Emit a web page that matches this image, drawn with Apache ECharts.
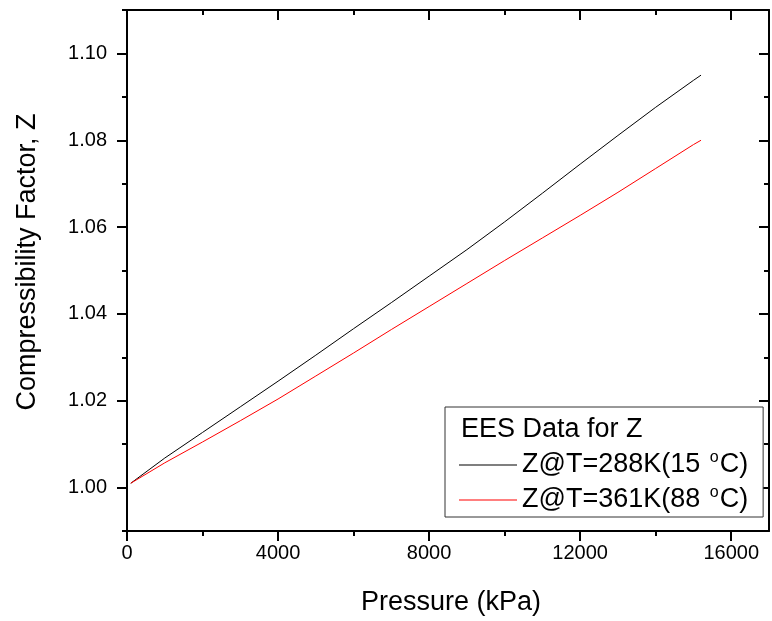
<!DOCTYPE html>
<html>
<head>
<meta charset="utf-8">
<script src="https://cdn.jsdelivr.net/npm/echarts@6/dist/echarts.min.js"></script>
<style>html,body{margin:0;padding:0;background:#fff}#c{width:772px;height:621px}</style>
</head>
<body>
<div id="c"></div>
<script>
// ---- data ----
const pressure = [100, 1000, 2000, 3000, 4000, 5000, 6000, 7000, 8000, 9000, 10000, 11000, 12000, 13000, 14000, 15000, 15200];
const z288 = [1.0010, 1.0068, 1.0127, 1.0186, 1.0245, 1.0305, 1.0366, 1.0426, 1.0487, 1.0548, 1.0612, 1.0678, 1.0745, 1.0811, 1.0876, 1.0938, 1.0950];
const z361 = [1.0010, 1.0057, 1.0105, 1.0154, 1.0204, 1.0257, 1.0310, 1.0364, 1.0417, 1.0470, 1.0523, 1.0575, 1.0627, 1.0680, 1.0735, 1.0790, 1.0800];
const xMajorTicks = [0, 4000, 8000, 12000, 16000];
const xMinorTicks = [2000, 6000, 10000, 14000];
const yMajorTicks = [1.00, 1.02, 1.04, 1.06, 1.08, 1.10];
const yMinorTicks = [0.99, 1.01, 1.03, 1.05, 1.07, 1.09, 1.11];
const seriesNames = ['Z@T=288K(15 oC)', 'Z@T=361K(88 oC)'];
const legendLabels = ['Z@T=288K(15 {s|o}C)', 'Z@T=361K(88 {s|o}C)'];
const legendTitle = 'EES Data for Z';
const xName = 'Pressure (kPa)';
const yName = 'Compressibility Factor, Z';

const FONT = 'Liberation Sans, Arial, sans-serif';
const X0 = 0, X1 = 17000, Y0 = 0.99, Y1 = 1.11;
const lineColors = ['#000000', '#ff0000'];

function xAxisDef(pos, ticks, len, inside, labels, withLine) {
  return {
    type: 'value', position: pos, min: X0, max: X1,
    axisLine: {show: withLine, onZero: false, lineStyle: {color: '#000', width: 2}},
    axisTick: {show: true, inside: inside, length: len, lineStyle: {color: '#000', width: 2}, customValues: ticks},
    axisLabel: labels ? {show: true, customValues: ticks, margin: 12, color: '#000', fontSize: 20, fontFamily: FONT, formatter: v => String(Math.round(v))} : {show: false},
    splitLine: {show: false},
    name: labels ? xName : '',
    nameLocation: 'middle', nameGap: 58,
    nameTextStyle: {color: '#000', fontSize: 27, fontFamily: FONT, padding: [0, 0, 0, 6]}
  };
}
function yAxisDef(pos, ticks, len, inside, labels, withLine) {
  return {
    type: 'value', position: pos, min: Y0, max: Y1,
    axisLine: {show: withLine, onZero: false, lineStyle: {color: '#000', width: 2}},
    axisTick: {show: true, inside: inside, length: len, lineStyle: {color: '#000', width: 2}, customValues: ticks},
    axisLabel: labels ? {show: true, customValues: ticks, margin: 20, color: '#000', fontSize: 20, fontFamily: FONT, formatter: v => v.toFixed(2)} : {show: false},
    splitLine: {show: false},
    name: labels ? yName : '',
    nameLocation: 'middle', nameGap: 86, nameRotate: 90,
    nameTextStyle: {color: '#000', fontSize: 27, fontFamily: FONT, padding: [0, 0, 0, 17]}
  };
}

const chart = echarts.init(document.getElementById('c'), null, {renderer: 'canvas'});
chart.setOption({
  animation: false,
  backgroundColor: '#fff',
  grid: {left: 127, right: 3, top: 10, bottom: 90, containLabel: false},
  xAxis: [
    xAxisDef('bottom', xMajorTicks, 10, false, true, true),
    xAxisDef('bottom', xMinorTicks, 5, false, false, false),
    xAxisDef('top', xMajorTicks, 10, true, false, true),
    xAxisDef('top', xMinorTicks, 5, true, false, false)
  ],
  yAxis: [
    yAxisDef('left', yMajorTicks, 10, false, true, true),
    yAxisDef('left', yMinorTicks, 5, false, false, false),
    yAxisDef('right', yMajorTicks, 10, true, false, true),
    yAxisDef('right', yMinorTicks, 5, true, false, false)
  ],
  legend: {
    show: true,
    orient: 'vertical', left: 445, top: 407,
    padding: [43, 15, 2, 14],
    backgroundColor: '#fff',
    borderColor: '#333', borderWidth: 1,
    itemWidth: 58, itemHeight: 1, itemGap: 5,
    formatter: name => legendLabels[seriesNames.indexOf(name)],
    textStyle: {color: '#000', fontSize: 27, fontFamily: FONT, lineHeight: 30,
      rich: {s: {fontSize: 16, fontFamily: FONT, verticalAlign: 'top', color: '#000', padding: [0, 1, 0, 2]}}},
    data: seriesNames.map((n, i) => ({name: n, icon: 'rect', itemStyle: {color: lineColors[i]}}))
  },
  graphic: [{
    type: 'text', left: 461, top: 416, z: 100,
    style: {text: legendTitle, fill: '#000', font: '27px ' + FONT}
  }],
  series: [
    {name: seriesNames[0], type: 'line', symbol: 'none', xAxisIndex: 0, yAxisIndex: 0,
     lineStyle: {color: lineColors[0], width: 1}, itemStyle: {color: lineColors[0]},
     data: pressure.map((p, i) => [p, z288[i]])},
    {name: seriesNames[1], type: 'line', symbol: 'none', xAxisIndex: 0, yAxisIndex: 0,
     lineStyle: {color: lineColors[1], width: 1}, itemStyle: {color: lineColors[1]},
     data: pressure.map((p, i) => [p, z361[i]])}
  ]
});
</script>
</body>
</html>
